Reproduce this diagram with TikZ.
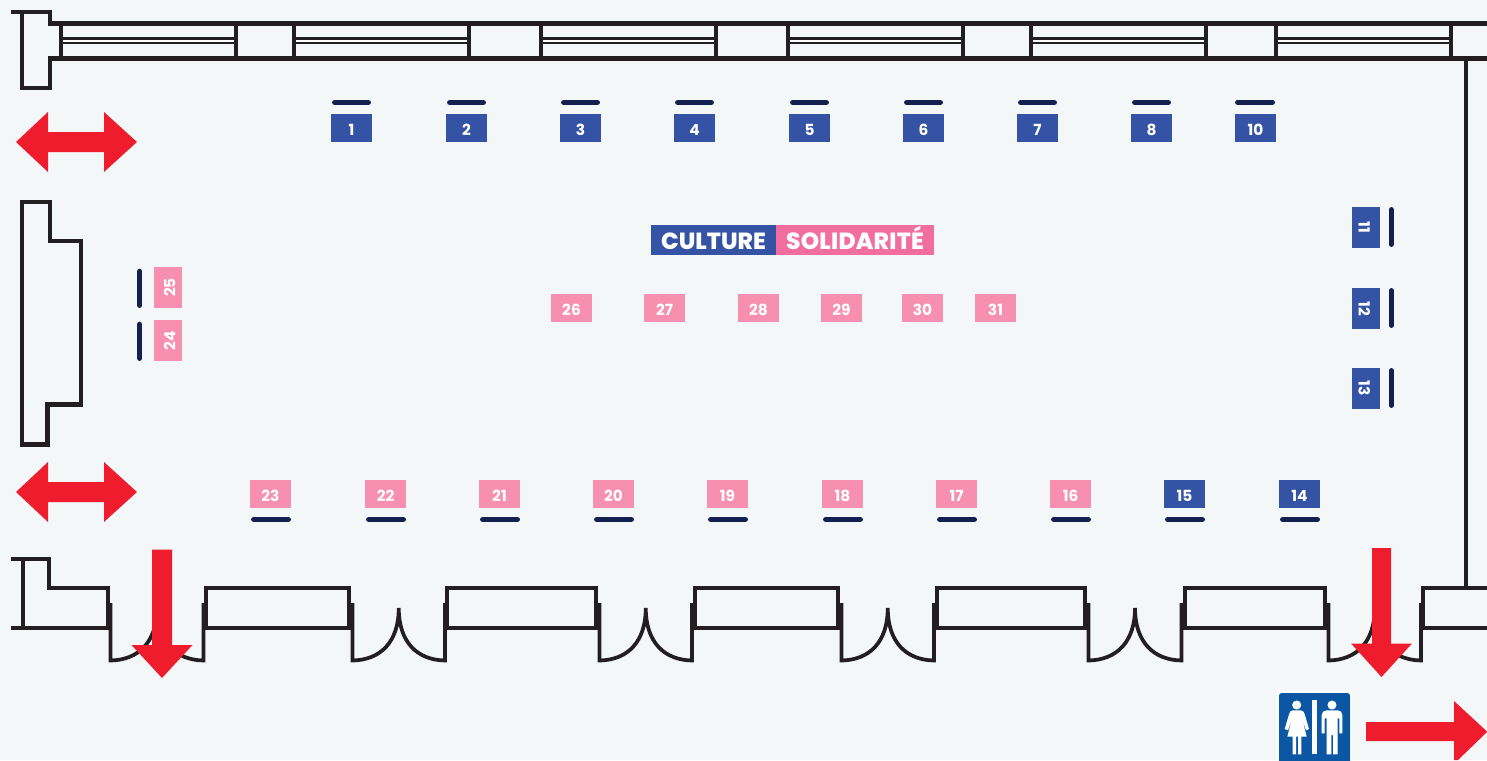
\documentclass[tikz,border=0pt]{standalone}
\usepackage{fontspec}
\setmainfont{Poppins}[BoldFont={Poppins Bold}]
\newfontfamily\titlefont{Poppins ExtraBold}
\definecolor{bg}{HTML}{F3F7F8}
\definecolor{wall}{HTML}{231F20}
\definecolor{bar}{HTML}{14204F}
\definecolor{bluebooth}{HTML}{3553A4}
\definecolor{pinkbooth}{HTML}{F78FB0}
\definecolor{pinktitle}{HTML}{F26E9F}
\definecolor{arrowred}{HTML}{EF1C2E}
\definecolor{wcblue}{HTML}{0B57A4}
\tikzset{
  wallline/.style={draw=wall,line width=3.1pt,line join=miter},
  lowwall/.style={draw=wall,line width=2.9pt,line join=miter},
  doorline/.style={draw=wall,line width=2.8pt,line join=miter},
  thinwall/.style={draw=wall,line width=1.8pt},
  hbooth/.style={minimum width=30.75pt,minimum height=21pt,inner sep=0pt,text=white,text height=11pt,text depth=0pt,font=\fontsize{11.5}{11.5}\selectfont\bfseries},
  barline/.style={draw=bar,line width=4pt,line cap=round},
  redarrow/.style={fill=arrowred,draw=none},
  titlebox/.style={text=white,inner sep=0pt,minimum height=22.5pt,text height=13.7pt,text depth=0pt,font=\fontsize{17.5}{17.5}\titlefont},
  wcfig/.style={fill=white,draw=none}
}
\newcommand{\hb}[4]{% name, x-left, y-top, color
  \node[hbooth,fill=#4] (b#1) at (#2+20.5,#3+14) {#1};}
\begin{document}
\begin{tikzpicture}[x=0.75pt,y=-0.75pt]
\useasboundingbox[fill=bg] (0,0) rectangle (1487,760);
% top wall
\draw[wallline] (11,12) -- (50,12) -- (50,23.5) -- (1487,23.5);
\draw[wallline] (22,12) -- (22,88) -- (50,88) -- (50,58.5) -- (1487,58.5);
\foreach \a/\b in {61/236,294/469,541/716,788/963,1031/1206,1276/1451}{
  \fill[white] (\a,38.3) rectangle (\b,42.8);
  \draw[thinwall] (\a,38.3) -- (\b,38.3);
  \draw[thinwall] (\a,42.8) -- (\b,42.8);
  \draw[wallline] (\a,23.5) -- (\a,58.5);
  \draw[wallline] (\b,23.5) -- (\b,58.5);
}
\draw[lowwall] (1466,58.5) -- (1466,588);
% left pillar
\draw[wallline] (22,202) -- (50,202) -- (50,241) -- (81,241) -- (81,404.5) -- (47.5,404.5) -- (47.5,444.5) -- (22,444.5) -- cycle;
% bottom wall
\draw[lowwall] (11,559) -- (49,559) -- (49,588) -- (108,588) -- (108,628) -- (11,628);
\draw[lowwall] (23,559) -- (23,628);
\foreach \a/\b in {206/349,447/596,695/838,937/1085,1185/1325}{
  \draw[lowwall] (\a,588) rectangle (\b,628);
}
\draw[lowwall] (1487,588) -- (1423,588) -- (1423,628) -- (1487,628);
\foreach \l/\r in {110.5/203.5,352.5/445,599.5/692,841.5/934,1088.5/1181.5,1328.5/1421}{
  \pgfmathsetmacro{\c}{(\l+\r)/2}
  \draw[doorline]
    (\l,603) -- (\l,660.5) .. controls (\l+28,660) and (\c,642) .. (\c,608)
    .. controls (\c,642) and (\r-28,660) .. (\r,660.5) -- (\r,603);
}
% red arrows
\foreach \y in {142,492}{
  \fill[redarrow] (16,\y) -- (48,\y-30) -- (48,\y-10) -- (104,\y-10) -- (104,\y-30) -- (137,\y) -- (104,\y+30) -- (104,\y+10) -- (48,\y+10) -- (48,\y+30) -- cycle;
}
\fill[redarrow] (152,549.5) -- (172,549.5) -- (172,645) -- (192.5,645) -- (162,678) -- (131.5,645) -- (152,645) -- cycle;
\fill[redarrow] (1372,548) -- (1391,548) -- (1391,643.5) -- (1412,643.5) -- (1381.5,677) -- (1351,643.5) -- (1372,643.5) -- cycle;
\fill[redarrow] (1366,722) -- (1454,722) -- (1454,701) -- (1487,731.5) -- (1487,732) -- (1458,760) -- (1454,760) -- (1454,741) -- (1366,741) -- cycle;
% title
\node[titlebox,fill=bluebooth,minimum width=93.75pt] (culture) at (713.5,240) {CULTURE};
\node[titlebox,fill=pinktitle,minimum width=118.5pt] (solidarite) at (855,240) {\addfontfeature{LetterSpace=1}SOLIDARITÉ};
% top booths
\foreach \n/\x in {1/331,2/446,3/560,4/674,5/789,6/903,7/1017,8/1131}{
  \hb{\n}{\x}{114}{bluebooth}
  \draw[barline] (\x+3.7,102.5) -- (\x+37.3,102.5);
}
\hb{10}{1235}{114}{bluebooth}
\draw[barline] (1237.7,102.3) -- (1272.3,102.3);
% bottom booths
\foreach \n/\x in {23/250,22/365,21/479,20/593,19/707,18/822,17/936,16/1050}{
  \hb{\n}{\x}{480}{pinkbooth}
  \draw[barline] (\x+3.7,519.5) -- (\x+38.3,519.5);
}
\foreach \n/\x in {15/1164,14/1279}{
  \hb{\n}{\x}{480}{bluebooth}
  \draw[barline] (\x+3.7,519.5) -- (\x+38.3,519.5);
}
% centre booths
\foreach \n/\x in {26/551,27/644,28/738,29/821,30/902,31/975}{
  \hb{\n}{\x}{294}{pinkbooth}
}
% right booths
\foreach \n/\y in {11/207,12/288,13/368}{
  \node[hbooth,rotate=-90,fill=bluebooth] (b\n) at (1366,\y+20.5) {\n};
  \draw[barline] (1391.3,\y+2.7) -- (1391.3,\y+37.3);
}
% left booths
\foreach \n/\y in {25/267,24/320}{
  \node[hbooth,rotate=90,fill=pinkbooth] (b\n) at (168,\y+20.5) {\n};
  \draw[barline] (139.7,\y+4.4) -- (139.7,\y+38.3);
}
% WC sign
\fill[white] (1276,690) rectangle (1352,760);
\fill[wcblue,rounded corners=2pt] (1279,693) rectangle (1350,764);
\begin{scope}[shift={(1270,685)},x=0.25pt,y=-0.25pt]
  \fill[wcfig] (126,45) rectangle (142,208);
  % woman
  \fill[wcfig] (80,60) circle (3.4pt);
  \fill[wcfig] (68,76) -- (92,76) .. controls (100,76) and (102,82) .. (104,88)
     -- (117,132) -- (108,136) -- (96,100) -- (110,155) -- (94,155) -- (94,208) -- (84,208) -- (84,155)
     -- (78,155) -- (78,208) -- (68,208) -- (68,155) -- (52,155) -- (66,100) -- (54,136) -- (44,132)
     -- (57,88) .. controls (59,82) and (61,76) .. (68,76) -- cycle;
  % man
  \fill[wcfig] (186,60) circle (3.4pt);
  \fill[wcfig] (170,76) -- (203,76) .. controls (212,76) and (217,82) .. (217,90)
     -- (217,145) -- (208,145) -- (208,100) -- (203,100) -- (203,208) -- (189,208) -- (189,150) -- (184,150)
     -- (184,208) -- (170,208) -- (170,100) -- (164,100) -- (164,145) -- (155,145)
     -- (155,90) .. controls (155,82) and (161,76) .. (170,76) -- cycle;
\end{scope}
\end{tikzpicture}
\end{document}
